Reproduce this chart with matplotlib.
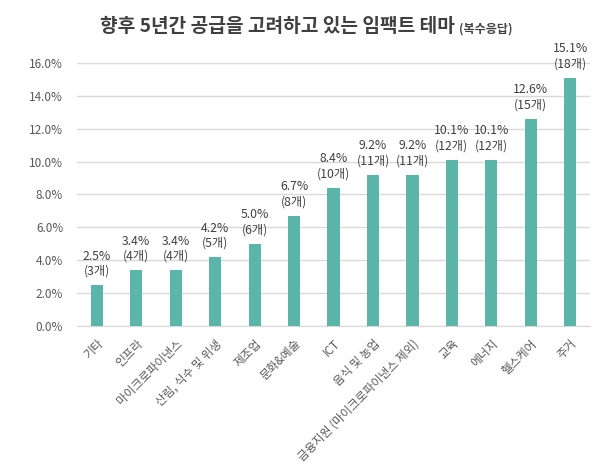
import matplotlib.pyplot as plt

plt.rcParams['font.family'] = ['Noto Sans CJK KR', 'DejaVu Sans']

categories = ['기타', '인프라', '마이크로파이낸스', '산림, 식수 및 위생', '제조업', '문화&예술', 'ICT',
              '음식 및 농업', '금융지원 (마이크로파이낸스 제외)', '교육', '에너지', '헬스케어', '주거']
pct = [2.5, 3.4, 3.4, 4.2, 5.0, 6.7, 8.4, 9.2, 9.2, 10.1, 10.1, 12.6, 15.1]
counts = [3, 4, 4, 5, 6, 8, 10, 11, 11, 12, 12, 15, 18]
yticks = [0, 2, 4, 6, 8, 10, 12, 14, 16]

bar_color = '#5BB5A8'
text_color = '#404040'

fig = plt.figure(figsize=(6.07, 4.76), dpi=100)
ax = fig.add_axes([0.127, 0.315, 0.845, 0.553])

x = list(range(len(categories)))
ax.bar(x, pct, width=0.31, color=bar_color, zorder=3)

for i in x:
    ax.text(i, pct[i] + 0.45, '%.1f%%\n(%d개)' % (pct[i], counts[i]),
            ha='center', va='bottom', fontsize=8.8, color=text_color,
            linespacing=1.2, clip_on=False)

ax.set_xlim(-0.5, len(categories) - 0.5)
ax.set_ylim(0, 16)
ax.set_yticks(yticks)
ax.set_yticklabels(['%.1f%%' % v for v in yticks], fontsize=8.5, color='#595959')
ax.set_xticks(x)
ax.set_xticklabels(categories, rotation=45, ha='right', rotation_mode='anchor',
                   fontsize=8.5, color='#595959')
ax.tick_params(axis='both', length=0)
ax.tick_params(axis='y', pad=10)
ax.tick_params(axis='x', pad=8)
ax.grid(axis='y', color='#d9d9d9', linewidth=1, zorder=0)
for s in ['top', 'right', 'left']:
    ax.spines[s].set_visible(False)
ax.spines['bottom'].set_color('#d9d9d9')

fig.text(455 / 607, 1 - 27 / 476, '향후 5년간 공급을 고려하고 있는 임팩트 테마',
         ha='right', va='center', fontsize=13.8, fontweight='bold', color='#404040')
fig.text(459 / 607, 1 - 29 / 476, '(복수응답)',
         ha='left', va='center', fontsize=8.7, fontweight='bold', color='#404040')

fig.savefig('out.png', dpi=100, facecolor='white')
